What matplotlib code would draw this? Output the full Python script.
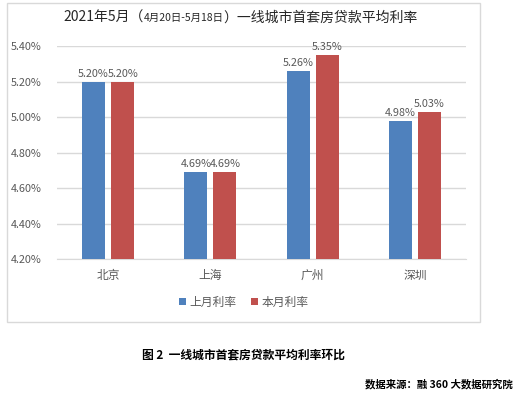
import matplotlib
matplotlib.use("Agg")
import matplotlib.pyplot as plt
import numpy as np
from matplotlib.patches import Rectangle
from matplotlib.transforms import offset_copy

plt.rcParams['font.family'] = ['Noto Sans CJK SC', 'DejaVu Sans']

cities = ['北京', '上海', '广州', '深圳']
last_month = [5.20, 4.69, 5.26, 4.98]
this_month = [5.20, 4.69, 5.35, 5.03]
series_names = ['上月利率', '本月利率']
yticks = [4.20, 4.40, 4.60, 4.80, 5.00, 5.20, 5.40]

blue = '#4F81BD'
red = '#C0504D'
grid = '#D9D9D9'
txt = '#595959'

W, H = 520, 395
fig = plt.figure(figsize=(W / 100, H / 100), dpi=100)

# chart frame
fig.patches.append(Rectangle((7 / W, 1 - 322 / H), 473 / W, 319.5 / H,
                             transform=fig.transFigure, fill=False,
                             edgecolor=grid, linewidth=1))

ax = fig.add_axes([57 / W, 1 - 259 / H, 409 / W, 213 / H])
x = np.arange(len(cities))
bw = 0.225
off = 0.142
b1 = ax.bar(x - off, last_month, bw, color=blue, label=series_names[0], zorder=3)
b2 = ax.bar(x + off, this_month, bw, color=red, label=series_names[1], zorder=3)

for bars, vals in ((b1, last_month), (b2, this_month)):
    for r, v in zip(bars, vals):
        ax.annotate(f'{v:.2f}%', (r.get_x() + r.get_width() / 2, v),
                    xytext=(0, 2), textcoords='offset points',
                    ha='center', va='bottom', fontsize=7.8, color=txt)

ax.set_xlim(-0.5, len(cities) - 0.5)
ax.set_ylim(4.2, 5.4)
ax.set_yticks(yticks)
ax.set_yticklabels([f'{v:.2f}%' for v in yticks], fontsize=7.8, color=txt)
ax.set_xticks(x)
ax.set_xticklabels(cities, fontsize=8.5, color=txt)
ax.tick_params(length=0)
ax.tick_params(axis='y', pad=11)
ax.tick_params(axis='x', pad=7)
ax.yaxis.grid(True, color=grid, linewidth=1, zorder=0)
ax.set_axisbelow(True)
for s in ['top', 'right', 'left']:
    ax.spines[s].set_visible(False)
ax.spines['bottom'].set_color(grid)

ax.legend(loc='center', bbox_to_anchor=(243.5 / W, 1 - 302 / H),
          bbox_transform=fig.transFigure, ncol=2, frameon=False,
          fontsize=8.5, handlelength=0.6, handleheight=0.6,
          handletextpad=0.3, columnspacing=1.2, labelcolor=txt)

# title in pieces, the date range is smaller
ty = 1 - 18 / H
parts = [('2021年5月（', 10), ('4月20日-5月18日', 7.5), ('）一线城市首套房贷款平均利率', 10)]
renderer = fig.canvas.get_renderer()
xpos = 63
for s, fs in parts:
    t = fig.text(xpos / W, ty, s, fontsize=fs, color='#262626', va='center', ha='left')
    xpos += t.get_window_extent(renderer).width

fig.text(142 / W, 1 - 355 / H, '图 2  一线城市首套房贷款平均利率环比', fontsize=8.5,
         fontweight='bold', color='black', va='center', ha='left')
fig.text(513 / W, 1 - 384 / H, '数据来源：融 360 大数据研究院', fontsize=7.5,
         fontweight='bold', color='black', va='center', ha='right')

fig.savefig('out.png', dpi=100)
